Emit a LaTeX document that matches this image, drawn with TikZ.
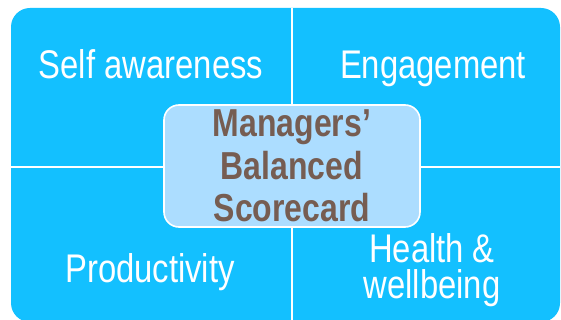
\documentclass[tikz,border=0pt]{standalone}
\usepackage{fontspec}
\setmainfont{Liberation Sans}[FakeStretch=0.82]
\usepackage{tikz}
\usetikzlibrary{positioning}

\definecolor{quadblue}{RGB}{19,192,255}
\definecolor{coreblue}{RGB}{172,221,255}
\definecolor{corebrown}{RGB}{118,93,82}

\begin{document}
\begin{tikzpicture}[x=1pt,y=-1pt]
\tikzstyle{area}=[text=white, font=\fontsize{40}{36}\selectfont, inner sep=0pt, anchor=base]
\tikzstyle{core}=[draw=white, line width=1.6pt, fill=coreblue, rounded corners=15pt, minimum width=256pt, minimum height=122pt, text=corebrown, font=\bfseries\fontsize{39}{42.5}\selectfont, align=center, inner sep=0pt]

\useasboundingbox (0,0) rectangle (561,320);

\fill[quadblue, rounded corners=19pt] (11,8) rectangle (560,322);
\draw[white, line width=1.6pt] (291.7,8) -- (291.7,322);
\draw[white, line width=1.8pt] (11,166.7) -- (560,166.7);

\node[area] (self) at (151,79) {Self awareness};
\node[area] (engage) at (433,79) {Engagement};
\node[area] (prod) at (150,282) {Productivity};
\node[area, align=center] (health) at (432,298) {Health \&\\wellbeing};

\node[core] (bsc) at (292,166) {Managers’\\Balanced\\Scorecard};
\end{tikzpicture}
\end{document}
